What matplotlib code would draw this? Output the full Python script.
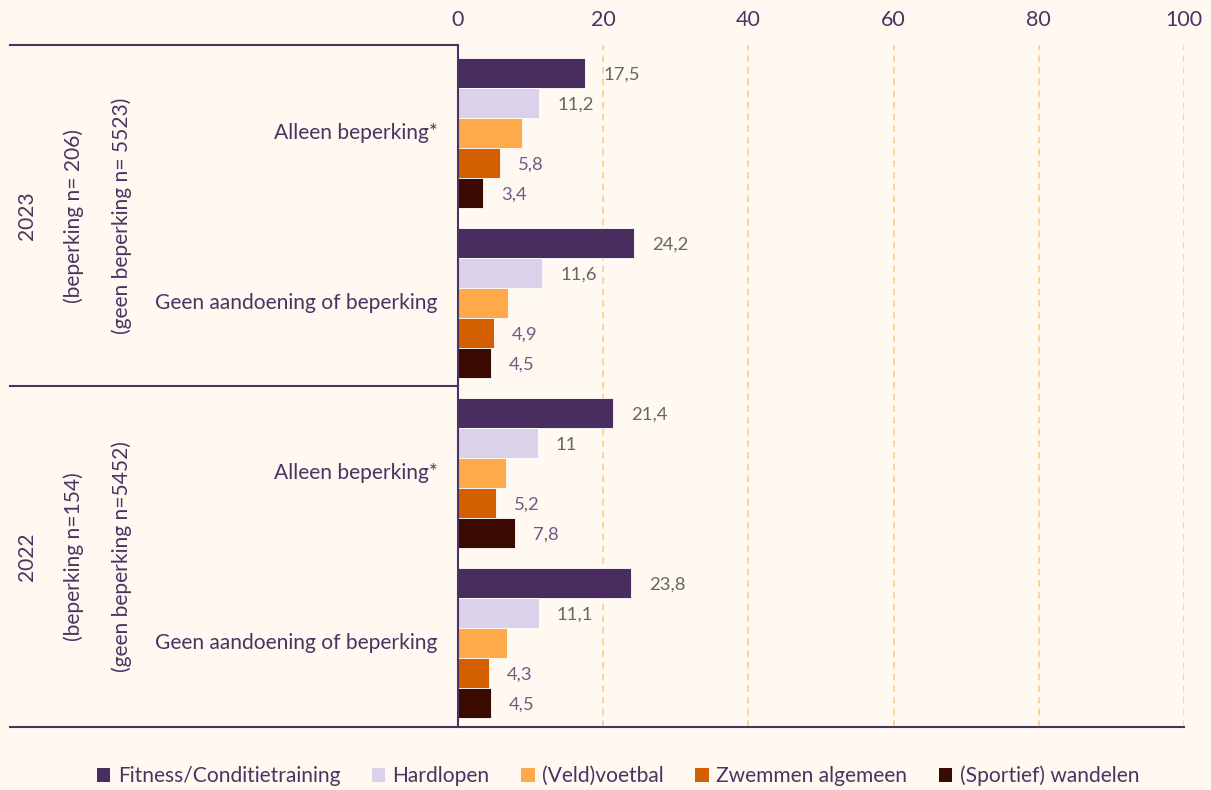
import matplotlib
matplotlib.use("Agg")
import matplotlib.pyplot as plt
from matplotlib.patches import Patch
import numpy as np

plt.rcParams['font.family'] = ['Lato', 'DejaVu Sans']

# categories top -> bottom
categories = ["Alleen beperking*", "Geen aandoening of beperking",
              "Alleen beperking*", "Geen aandoening of beperking"]
years = ["2023", "2022"]
n_beperking = ["(beperking n= 206)", "(beperking n=154)"]
n_geen = ["(geen beperking n= 5523)", "(geen beperking n=5452)"]

series = ["Fitness/Conditietraining", "Hardlopen", "(Veld)voetbal",
          "Zwemmen algemeen", "(Sportief) wandelen"]
fitness = [17.5, 24.2, 21.4, 23.8]
hardlopen = [11.2, 11.6, 11.0, 11.1]
voetbal = [8.8, 6.9, 6.6, 6.7]
zwemmen = [5.8, 4.9, 5.2, 4.3]
wandelen = [3.4, 4.5, 7.8, 4.5]
values = [fitness, hardlopen, voetbal, zwemmen, wandelen]
show_label = [True, True, False, True, True]

colors = ["#482D5E", "#DBD1E8", "#FFAA4A", "#D35F00", "#3A0A00"]
label_colors = ["#666666", "#666666", "#666666", "#6E5C85", "#6E5C85"]
txt = "#4B3462"
bg = "#FFF9F2"

fig = plt.figure(figsize=(12.11, 7.90), dpi=100, facecolor=bg)
ax = fig.add_axes([0.3782, 0.0797, 0.5995, 0.8633], facecolor=bg)

pos = np.arange(len(categories))
h = 0.176
for i, (vals, col) in enumerate(zip(values, colors)):
    y = pos + (i - 2) * h
    ax.barh(y, vals, height=h, color=col, edgecolor="white", linewidth=0.6, zorder=3)
    if show_label[i]:
        for yy, v in zip(y, vals):
            lab = ("%g" % v).replace(".", ",")
            ax.annotate(lab, (v, yy), xytext=(13, 0), textcoords="offset points",
                        ha="left", va="center_baseline", fontsize=13.3,
                        color=label_colors[i])

ax.set_xlim(0, 100)
ax.set_ylim(3.494, -0.518)
ax.set_xticks([0, 20, 40, 60, 80, 100])
ax.xaxis.tick_top()
ax.tick_params(axis="x", length=0, pad=11, labelsize=15.5, labelcolor=txt)
ax.set_yticks([])
ax.grid(axis="x", color="#FFCB8E", linestyle=(0, (4, 3)), linewidth=1.2, zorder=0)
ax.set_axisbelow(True)
for s in ["top", "right"]:
    ax.spines[s].set_visible(False)
for s in ["left", "bottom"]:
    ax.spines[s].set_color(txt)
    ax.spines[s].set_linewidth(1.5)
    ax.spines[s].set_zorder(5)

# left side separator lines
for yy in [1.0, 0.5, 0.0]:
    ax.plot([-0.617, 0], [yy, yy], transform=ax.transAxes, color=txt,
            linewidth=1.5, clip_on=False)

# category labels
for p, c in zip(pos, categories):
    ax.text(-0.028, p, c, transform=ax.get_yaxis_transform(), ha="right",
            va="center", fontsize=15.1, color=txt)

# rotated group labels
for g in range(2):
    yc = 0.75 - 0.5 * g
    for xpx, t in zip([27, 74, 122], [years[g], n_beperking[g], n_geen[g]]):
        fig.text(xpx / 1211, 0.0797 + yc * 0.8633, t, rotation=90,
                 ha="center", va="center", fontsize=15.1, color=txt)

handles = [Patch(facecolor=c, edgecolor="none") for c in colors]
fig.legend(handles, series, loc="center", bbox_to_anchor=(618 / 1211, 1 - 776 / 790),
           ncol=5, frameon=False, fontsize=15.1, labelcolor=txt,
           handlelength=0.65, handleheight=0.65, handletextpad=0.35, columnspacing=1.5)

fig.savefig("out.png", dpi=100, facecolor=bg)
